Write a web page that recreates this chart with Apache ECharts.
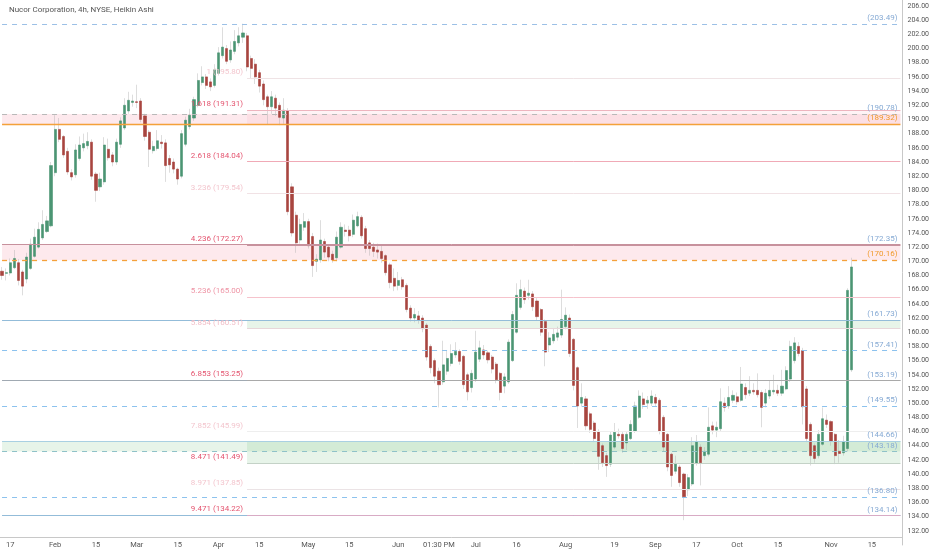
<!DOCTYPE html>
<html><head><meta charset="utf-8">
<script src="https://cdn.jsdelivr.net/npm/echarts@6/dist/echarts.min.js"></script>
<style>html,body{margin:0;padding:0;background:#fff}#c{width:932px;height:550px}</style>
</head><body><div id="c"></div>
<script>
// ---- data (one Heikin Ashi candle per trading day) ----
const haOpen = [168.6,168.3,168.35,169.1,169.8,168.5,167.5,169.0,170.7,172.0,173.3,174.2,175.0,182.5,188.6,187.6,185.5,182.5,182.2,184.5,
186.0,186.3,186.8,182.3,180.5,181.2,185.8,185.0,184.0,186.5,188.8,191.2,192.4,192.5,192.6,190.5,188.2,185.6,185.9,186.8,
186.7,184.5,184.0,183.0,182.0,186.5,189.0,190.2,192.0,195.2,196.0,195.3,194.8,196.5,199.0,200.0,198.4,199.6,200.8,201.6,
201.8,198.6,197.8,196.6,195.0,193.2,191.8,193.0,192.0,190.2,191.2,180.5,176.5,173.0,174.8,175.6,173.5,170.0,170.2,172.8,
172.0,171.0,170.5,172.0,174.4,174.4,173.8,175.0,176.2,174.6,172.6,172.0,171.6,171.4,170.8,169.5,167.6,166.6,167.4,166.6,
163.4,162.0,162.3,162.0,161.0,158.0,156.0,154.5,153.0,154.5,155.6,156.8,157.3,156.6,154.0,152.2,153.4,156.2,157.5,157.1,
156.5,155.5,154.2,152.4,153.0,156.0,160.0,163.5,165.8,165.2,165.4,164.4,163.2,161.5,158.2,158.8,159.3,159.6,160.8,162.0,
159.0,155.0,150.0,150.6,148.5,147.2,146.0,144.0,142.6,141.4,143.8,145.6,145.6,144.4,145.0,146.0,148.0,150.6,150.0,150.0,
150.8,150.4,148.0,145.6,142.8,140.4,141.0,140.0,137.8,138.6,141.5,143.8,142.6,142.8,146.8,146.2,146.4,150.0,149.6,150.4,
150.9,150.4,152.2,151.4,151.8,151.8,151.5,150.0,151.0,151.6,151.8,151.4,152.0,153.4,156.0,158.0,157.4,152.0,147.0,144.0,
142.6,144.2,147.6,147.4,145.6,143.2,143.0,143.6,154.7];
const haClose = [168.0,168.4,169.8,170.4,167.3,166.5,170.6,172.4,173.4,174.5,175.2,175.7,183.5,188.6,187.2,185.0,182.6,181.9,185.7,186.4,
186.6,186.9,182.0,180.0,181.6,186.4,184.6,184.0,186.8,189.8,192.0,192.7,192.6,192.4,190.0,187.6,185.8,186.2,187.0,186.6,
183.5,183.6,183.0,181.6,188.0,189.9,190.6,192.8,195.5,196.0,194.8,194.6,197.0,199.4,200.2,198.2,199.8,201.0,201.8,202.2,
197.4,197.2,196.0,194.7,192.8,191.8,193.2,191.6,190.3,191.3,177.0,174.0,172.6,175.2,175.6,172.2,169.4,170.3,173.0,171.3,
170.6,170.2,173.4,174.8,174.2,173.6,175.8,176.3,173.6,171.8,171.8,171.4,171.3,170.4,168.4,167.0,166.5,167.3,166.4,163.2,
162.0,162.5,161.7,160.5,156.5,155.0,153.8,152.6,155.4,156.3,157.0,157.3,155.9,152.6,151.6,154.2,157.2,157.8,156.8,156.1,
154.8,153.3,151.5,153.7,158.6,162.5,165.2,166.0,164.6,165.5,163.6,162.2,160.0,157.2,159.2,159.7,159.9,161.8,162.4,157.0,
152.5,149.6,150.8,146.8,146.3,145.0,142.5,141.6,141.2,145.5,145.9,145.4,143.6,145.6,147.0,149.6,151.0,149.8,150.4,151.0,
150.0,146.0,143.8,141.0,139.8,141.4,138.8,136.8,139.5,144.0,144.6,141.6,143.2,146.6,146.2,146.6,150.2,149.4,150.8,151.1,
150.2,152.7,151.2,151.8,151.6,151.2,149.4,151.4,151.8,151.8,151.4,152.4,154.6,158.0,158.5,157.0,149.5,145.0,142.6,142.2,
145.6,147.8,147.0,144.6,142.6,142.9,144.6,165.9,169.2];
const haLow = [167.4,167.3,168.0,168.9,166.6,165.2,166.9,168.8,170.5,171.8,173.0,174.0,174.8,182.0,186.8,184.6,182.2,181.4,181.8,184.2,
185.5,185.8,181.5,178.4,179.9,180.8,184.2,183.4,183.6,186.0,188.5,190.8,191.8,191.6,189.6,187.0,183.3,185.2,185.6,185.9,
181.2,182.5,182.4,180.8,181.7,186.2,188.6,189.8,191.7,194.8,194.3,194.0,194.5,196.2,198.6,197.8,198.0,199.2,200.3,200.8,
196.8,195.8,195.0,193.8,192.0,189.3,190.8,190.5,189.2,189.4,176.5,173.5,171.2,172.5,174.3,171.8,167.8,168.5,169.8,170.5,
170.0,169.8,170.0,171.8,173.5,172.8,173.4,174.8,173.2,171.2,170.8,170.6,170.4,169.8,168.0,166.2,165.8,165.9,166.0,162.8,
161.5,161.4,161.2,160.0,156.0,154.2,152.8,149.4,152.6,154.0,155.2,156.4,155.4,152.0,150.4,151.5,153.0,155.8,156.2,155.6,
154.2,152.8,150.4,151.4,152.7,155.8,159.8,163.2,164.0,164.6,163.0,161.6,159.5,155.2,157.2,158.4,158.8,159.2,160.4,156.5,
151.8,146.5,149.5,146.2,145.8,144.5,140.6,141.0,139.6,141.0,143.5,145.0,143.0,143.4,144.8,145.8,147.8,149.2,149.2,149.6,
149.6,145.6,143.2,140.4,138.2,140.0,138.2,133.5,136.9,138.3,141.2,138.4,142.0,142.5,145.6,145.2,146.0,148.8,149.2,150.0,
149.8,150.2,150.6,151.0,151.2,150.8,146.6,149.4,150.6,151.2,151.0,151.0,151.8,153.0,155.6,156.6,147.0,144.5,141.2,141.6,
142.2,144.0,146.5,144.0,141.4,141.6,142.6,143.2,154.4];
const haHigh = [169.2,169.0,170.4,171.6,170.3,168.8,171.2,173.2,174.6,175.5,177.2,176.4,184.0,190.6,190.2,187.8,186.0,183.0,186.5,187.6,
188.0,188.2,187.2,182.6,182.5,187.5,187.3,185.4,187.3,190.3,193.0,193.9,193.5,194.9,193.0,190.8,188.5,187.0,188.5,187.8,
187.2,185.0,184.5,183.2,188.5,190.4,191.5,193.2,196.5,197.5,196.4,195.8,197.8,200.2,203.0,200.5,201.0,202.6,203.0,203.5,
202.2,199.0,198.5,197.0,195.5,193.5,194.0,193.5,192.4,193.0,191.6,181.0,177.0,176.0,176.8,176.0,174.0,171.0,175.8,173.2,
172.4,171.5,174.2,175.5,175.2,175.0,176.6,177.0,176.5,175.0,173.0,172.6,172.5,172.3,171.0,169.8,169.0,168.5,167.8,166.9,
163.8,163.4,163.0,162.4,161.3,158.3,156.3,155.0,158.8,157.5,158.3,158.6,157.6,156.8,154.3,154.7,160.2,158.8,158.2,157.4,
156.8,155.8,154.4,154.2,159.0,163.0,166.9,167.4,166.3,167.4,165.8,164.8,163.4,161.8,160.0,160.6,160.8,166.0,163.5,162.5,
159.2,155.2,152.8,151.0,148.8,147.5,146.3,144.3,143.0,146.0,147.2,146.4,146.0,146.0,147.6,150.2,151.8,151.5,151.0,151.8,
151.3,150.7,148.3,145.8,143.0,142.6,141.3,140.2,140.0,145.2,145.5,144.2,143.8,149.4,147.4,147.4,152.1,150.8,152.4,151.8,
151.5,155.1,152.8,153.8,152.8,154.2,151.8,152.0,153.2,154.0,152.6,154.7,155.2,158.8,159.3,158.6,157.8,152.4,147.3,144.3,
146.2,149.4,148.4,147.6,145.8,144.8,145.4,166.2,170.5];

// x-axis tick labels (by trading date)
const tickDates = ['2024-01-17','2024-02-01','2024-02-15','2024-03-01','2024-03-15','2024-04-01','2024-04-15','2024-05-01','2024-05-15','2024-06-03','2024-06-17','2024-07-01','2024-07-16','2024-08-01','2024-08-19','2024-09-03','2024-09-17','2024-10-01','2024-10-15','2024-11-01','2024-11-15'];
const tickTexts = ['17','Feb','15','Mar','15','Apr','15','May','15','Jun','01:30 PM','Jul','16','Aug','19','Sep','17','Oct','15','Nov','15'];
const holidays = ['2024-01-15','2024-02-19','2024-03-29','2024-05-27','2024-06-19','2024-07-04','2024-09-02','2024-11-28'];

// Fibonacci extension levels (left labels)
const fibRatios = ['1','1.618','2.618','3.236','4.236','5.236','5.854','6.853','7.852','8.471','8.971','9.471'];
const fibPrices = [195.80,191.31,184.04,179.54,172.27,165.00,160.51,153.25,145.99,141.49,137.85,134.22];
// horizontal levels with right-side price labels
const rightPrices = [203.49,190.78,189.32,172.35,170.16,161.73,157.41,153.19,149.55,144.66,143.18,136.80,134.14];
// zones [low, high]
const zonesFull = [[189.32,190.78],[170.16,172.35],[143.18,144.66]];
const zonesPartial = [[189.32,191.31],[160.51,161.73],[141.49,144.66]];

// ---- build categories (trading days) ----
const cats = [];
{
  let d = new Date(Date.UTC(2024,0,12));
  while (cats.length < 221) {
    const s = d.toISOString().slice(0,10);
    const wd = d.getUTCDay();
    if (wd !== 0 && wd !== 6 && holidays.indexOf(s) < 0) cats.push(s);
    d = new Date(d.getTime() + 86400000);
  }
}
const tickMap = {};
tickDates.forEach((d,i)=>{tickMap[d]=tickTexts[i];});

const wickData = haLow.map((l,i)=>[l, haHigh[i], l, haHigh[i]]);
const bodyData = haOpen.map((o,i)=>{const c=haClose[i];return [o,c,Math.min(o,c),Math.max(o,c)];});

const startCat = cats[60], endCat = cats[cats.length-1], firstCat = cats[0];
const rightStyle = {
  203.49:{c:'#9cc0e6',t:'dashed',lc:'#86aad4'}, 190.78:{c:'#b9b9b9',t:'dashed',lc:'#86aad4'},
  189.32:{c:'#f4a13a',t:'solid',w:1.3,lc:'#f09a2c'}, 172.35:{c:'#c7919d',t:'solid',lc:'#86aad4'},
  170.16:{c:'#f4a13a',t:'dashed',w:1.3,lc:'#f09a2c'}, 161.73:{c:'#93bcd9',t:'solid',lc:'#86aad4'},
  157.41:{c:'#8cc2ee',t:'dashed',lc:'#86aad4'}, 153.19:{c:'#a0a9b2',t:'solid',lc:'#86aad4'},
  149.55:{c:'#8cc2ee',t:'dashed',lc:'#86aad4'}, 144.66:{c:'#a9d0e2',t:'solid',lc:'#86aad4'},
  143.18:{c:'#8fc2c8',t:'dashed',lc:'#86aad4'}, 136.80:{c:'#8cc2ee',t:'dashed',lc:'#86aad4'},
  134.14:{c:'#93bcd9',t:'solid',lc:'#86aad4'}
};
const strong='#e4546f', faded='#f3c6ce';
const fibStyle = {
  '1':{lc:faded,line:'#efe3e5'}, '1.618':{lc:strong,line:'#eeb4be'}, '2.618':{lc:strong,line:'#f0aab6'},
  '3.236':{lc:faded,line:'#f1e2e5'}, '4.236':{lc:strong,line:'#c7919d'}, '5.236':{lc:'#ee93a4',line:'#f6c3cc'},
  '5.854':{lc:'#f1bcc5',line:'#e6d6da'}, '6.853':{lc:strong,line:'#a9a9a9'}, '7.852':{lc:faded,line:'#eeeeee'},
  '8.471':{lc:strong,line:'#c4d2c7'}, '8.971':{lc:faded,line:'#ebe3e5'}, '9.471':{lc:strong,line:'#d8abc5'}
};

const markLines = [];
rightPrices.forEach(p=>{
  const s = rightStyle[p];
  markLines.push([{coord:[firstCat,p], lineStyle:{color:s.c,type:s.t==='dashed'?[5,5]:'solid',width:s.w||1}},{coord:[endCat,p]}]);
});
fibPrices.forEach((p,i)=>{
  const s = fibStyle[fibRatios[i]];
  markLines.push([{coord:[startCat,p], lineStyle:{color:s.line,type:'solid',width:1}},{coord:[endCat,p]}]);
});
const markAreas = [];
zonesFull.forEach((z,i)=>{
  const col = i===2 ? 'rgba(110,190,125,0.17)' : 'rgba(240,120,140,0.16)';
  markAreas.push([{coord:[firstCat,z[1]], itemStyle:{color:col}},{coord:[endCat,z[0]]}]);
});
zonesPartial.forEach((z,i)=>{
  const col = i===0 ? 'rgba(240,120,140,0.09)' : 'rgba(110,190,125,0.17)';
  markAreas.push([{coord:[startCat,z[1]], itemStyle:{color:col}},{coord:[endCat,z[0]]}]);
});
const markPoints = [];
fibPrices.forEach((p,i)=>{
  const r = fibRatios[i];
  markPoints.push({coord:[startCat,p], symbolSize:0, label:{show:true, position:'left', distance:4, offset:[0,-6],
    formatter: r+' ('+p.toFixed(2)+')', color: fibStyle[r].lc, fontSize:8, fontFamily:'Roboto'}});
});
rightPrices.forEach(p=>{
  markPoints.push({coord:[endCat,p], symbolSize:0, label:{show:true, position:'left', distance:3, offset:[0,-6],
    formatter: '('+p.toFixed(2)+')', color: rightStyle[p].lc, fontSize:8, fontFamily:'Roboto'}});
});

const chart = echarts.init(document.getElementById('c'), null, {renderer:'canvas'});
// price scale: 206 at y=6, 132 at y=530.8 ; grid top at y=0, bottom at y=545 (value 130)
const kpx = (530.8-6)/74;
const yMax = 206 + 6/kpx;
const yMin = 130;
chart.setOption({
  animation:false,
  backgroundColor:'#ffffff',
  title:{text:'Nucor Corporation, 4h, NYSE, Heikin Ashi', left:4, top:1,
    textStyle:{fontSize:8, color:'#555', fontWeight:'normal', fontFamily:'Roboto'}},
  grid:{left:0, right:28, top:0, bottom:550-(530.8+2*kpx)},
  xAxis:{type:'category', data:cats, boundaryGap:true, offset:-8,
    axisLine:{lineStyle:{color:'#c8c8c8'}}, axisTick:{show:false}, splitLine:{show:false},
    axisLabel:{margin:4, fontSize:7.5, color:'#555', fontFamily:'Roboto',
      interval:(idx,val)=>tickMap[val]!==undefined, formatter:(val)=>tickMap[val]||''}},
  yAxis:{type:'value', position:'right', min:yMin, max:yMax, interval:2,
    axisLine:{show:true, lineStyle:{color:'#c8c8c8'}}, axisTick:{show:false}, splitLine:{show:false},
    axisLabel:{margin:5, fontSize:7, color:'#555', fontFamily:'Roboto', showMinLabel:false, showMaxLabel:false,
      formatter:(v)=>v.toFixed(2)}},
  series:[
    {type:'line', data:[], z:1, silent:true,
      markArea:{silent:true, data:markAreas},
      markLine:{silent:true, symbol:['none','none'], label:{show:false}, data:markLines},
      markPoint:{silent:true, symbol:'circle', data:markPoints}},
    {type:'candlestick', name:'wick', data:wickData, z:3, barWidth:1,
      itemStyle:{color:'#a9a9a9', color0:'#a9a9a9', borderColor:'#a9a9a9', borderColor0:'#a9a9a9', borderWidth:0.4}},
    {type:'candlestick', name:'body', data:bodyData, z:4, barWidth:2.6,
      itemStyle:{color:'#4b9573', color0:'#a8453f', borderColor:'#4b9573', borderColor0:'#a8453f', borderWidth:0.6}}
  ]
});
</script></body></html>
